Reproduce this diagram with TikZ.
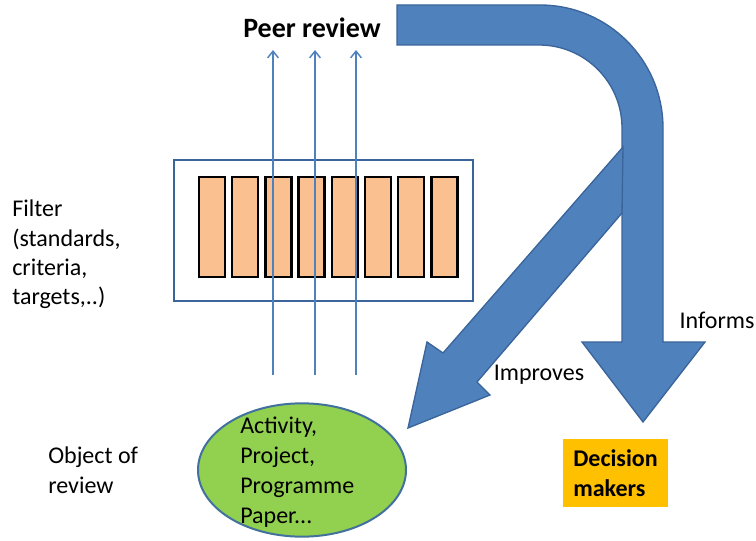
\documentclass[tikz,border=0pt]{standalone}
\usepackage{fontspec}
\setmainfont{Carlito}
\usetikzlibrary{shapes.geometric,arrows.meta}

\definecolor{bigblue}{HTML}{4F81BD}
\definecolor{bigedge}{HTML}{3A649A}
\definecolor{barfill}{HTML}{FAC090}
\definecolor{objgreen}{HTML}{92D050}
\definecolor{objedge}{HTML}{41719C}
\definecolor{decfill}{HTML}{FFC000}

\tikzset{
  txt/.style={font=\fontsize{18}{22}\selectfont, align=left, inner sep=0pt},
  bigarrow/.style={fill=bigblue, draw=bigedge, line width=1pt, line join=miter},
  bar/.style={draw=black, line width=1.9pt, fill=barfill, minimum width=19.5pt, minimum height=75pt, inner sep=0pt},
  ray/.style={draw=bigblue, line width=1.1pt, -{Straight Barb[length=5pt,width=8pt]}}
}

\begin{document}
\begin{tikzpicture}[x=0.75pt,y=0.75pt]
\useasboundingbox (0,0) rectangle (756,540);

% title
\node [font=\fontsize{21}{25}\selectfont\bfseries, inner sep=0pt] (peer) at (312,512) {Peer review};

% big arrow: peer review informs decision makers
\draw [bigarrow] (397,535) -- (540,535) arc[start angle=90, end angle=0, radius=92.25pt]
  -- (663,198) -- (705,198) -- (643,118) -- (582,198) -- (622,198)
  -- (622,412) arc[start angle=0, end angle=90, radius=62.25pt] -- (397,495) -- cycle;

% diagonal arrow: improves the object
\draw [bigarrow] (623,393) -- (443,187) -- (427,198) -- (408,112)
  -- (490,145) -- (477,158) -- (622,327) -- cycle;

\node [txt] (informs) at (717,220) {Informs};
\node [txt] (improves) at (539,165) {Improves};

% filter with its bars
\node [draw=bigedge, line width=1.5pt, minimum width=224pt, minimum height=106pt, inner sep=0pt] (filter) at (323.5,309.5) {};
\foreach \i in {0,...,7}
  \node [bar] (bar\i) at (212+33.2*\i,313) {};

% rays through the filter
\foreach \x/\n in {273/a,315/b,356/c} {
  \coordinate (low\n) at (\x,165);
  \coordinate (high\n) at (\x,490);
  \draw [ray] (low\n) -- (high\n);
}

\node [txt, anchor=north west] (filtertext) at (12,340) {Filter\\(standards,\\criteria,\\targets,..)};

% object of review
\node [txt, anchor=north west] (objlabel) at (48,93) {Object of\\review};
\node [ellipse, draw=objedge, line width=1.5pt, fill=objgreen, minimum width=156pt, minimum height=100pt] (obj) at (302,70) {};
\node [txt, anchor=north west, font=\fontsize{18}{22.5}\selectfont] (objtext) at (240,123) {Activity,\\Project,\\Programme\\Paper...};

% decision makers
\node [fill=decfill, minimum width=79pt, minimum height=51pt, align=left, font=\fontsize{18}{22}\selectfont\bfseries] (decision) at (615.5,67) {Decision\\makers};

\end{tikzpicture}
\end{document}
